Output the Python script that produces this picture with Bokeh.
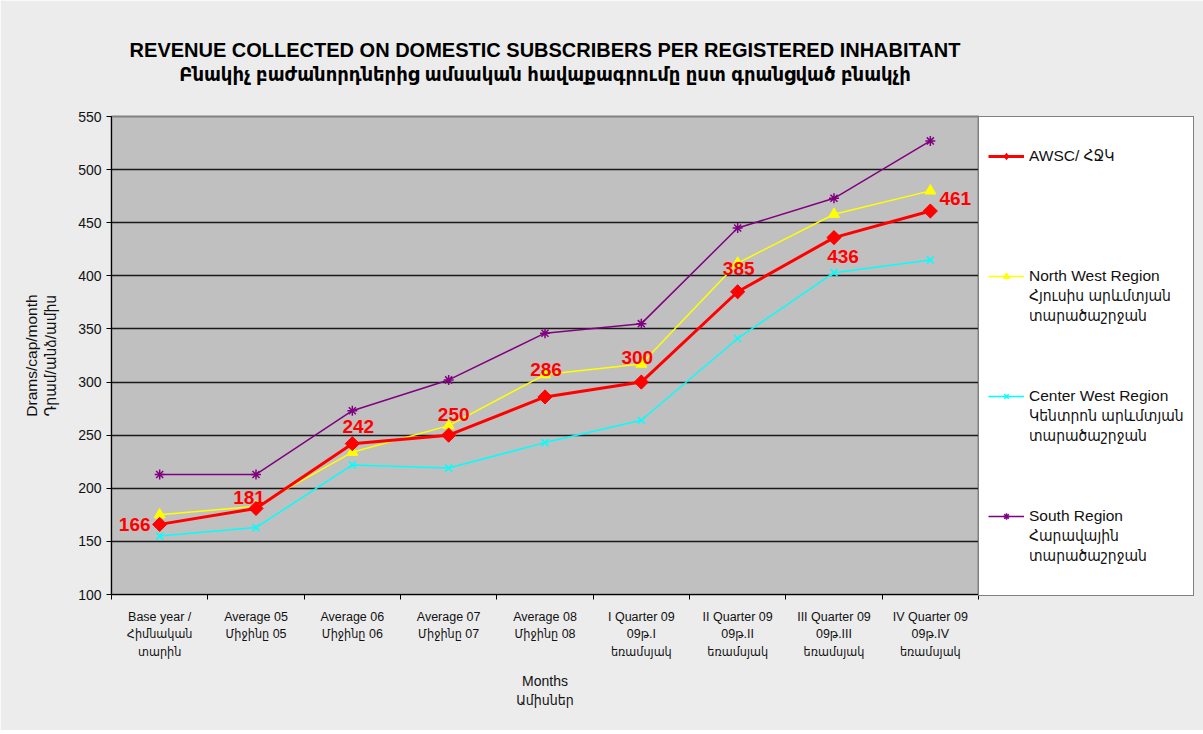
from bokeh.plotting import figure
from bokeh.models import (ColumnDataSource, LabelSet, Legend, LegendItem, Title,
                          Range1d, FixedTicker)
from bokeh.core.properties import value
from bokeh.embed import file_html
from bokeh.resources import INLINE

CATEGORIES = [
    "Base year /\nՀիմնական\nտարին",
    "Average 05\nՄիջինը 05",
    "Average 06\nՄիջինը 06",
    "Average 07\nՄիջինը 07",
    "Average 08\nՄիջինը 08",
    "I Quarter 09\n09թ.I\nեռամսյակ",
    "II Quarter 09\n09թ.II\nեռամսյակ",
    "III Quarter 09\n09թ.III\nեռամսյակ",
    "IV Quarter 09\n09թ.IV\nեռամսյակ",
]
AWSC = [166, 181, 242, 250, 286, 300, 385, 436, 461]
NORTH_WEST = [175, 183, 234, 259, 307, 317, 412, 458, 480]
CENTER_WEST = [155, 163, 222, 219, 243, 264, 341, 403, 415]
SOUTH = [213, 213, 273, 302, 346, 355, 445, 473, 527]

SERIES_NAMES = [
    "AWSC/ ՀՋԿ",
    "North West Region\nՀյուսիս արևմտյան\nտարածաշրջան",
    "Center West Region\nԿենտրոն արևմտյան\nտարածաշրջան",
    "South Region\nՀարավային\nտարածաշրջան",
]
Y_TICKS = [100, 150, 200, 250, 300, 350, 400, 450, 500, 550]

# label offsets in screen pixels (style only)
LABEL_DX = [-25, -7, 6, 5, 1, -4, 1, 9, 25]
LABEL_DY = [0, 11, 17, 21, 27, 25, 23, -19, 13]

FONT = "Liberation Sans, Arial, DejaVu Sans Condensed, DejaVu Sans, sans-serif"

xs = list(range(len(CATEGORIES)))

p = figure(frame_width=867, frame_height=478,
           x_range=Range1d(-0.5, len(CATEGORIES) - 0.5),
           y_range=Range1d(Y_TICKS[0], Y_TICKS[-1]),
           output_backend="svg", toolbar_location=None,
           min_border_left=111, min_border_right=220, min_border_top=116,
           min_border_bottom=136)

p.background_fill_color = "#c0c0c0"
p.border_fill_color = "#ececec"
p.outline_line_color = "#808080"
p.outline_line_width = 2

# axes
p.yaxis.ticker = FixedTicker(ticks=Y_TICKS)
p.yaxis.axis_line_color = "black"
p.yaxis.axis_line_width = 1
p.yaxis.major_tick_line_color = "black"
p.yaxis.major_tick_out = 5
p.yaxis.major_tick_in = 0
p.yaxis.minor_tick_line_color = None
p.yaxis.major_label_text_font = FONT
p.yaxis.major_label_text_font_size = "14px"
p.yaxis.major_label_text_color = "#111111"
p.yaxis.axis_label = "Drams/cap/month\nԴրամ/անձ/ամիս"
p.yaxis.axis_label_text_font = FONT
p.yaxis.axis_label_text_font_size = "15.5px"
p.yaxis.axis_label_text_font_style = "normal"
p.yaxis.axis_label_text_line_height = 1.1
p.yaxis.axis_label_text_color = "#111111"
p.yaxis.axis_label_standoff = 16

p.xaxis.ticker = FixedTicker(ticks=xs, minor_ticks=[x - 0.5 for x in xs] + [xs[-1] + 0.5])
p.xaxis.major_label_overrides = {x: c for x, c in zip(xs, CATEGORIES)}
p.xaxis.axis_line_color = "black"
p.xaxis.axis_line_width = 1
p.xaxis.major_tick_line_color = None
p.xaxis.major_tick_out = 0
p.xaxis.major_tick_in = 0
p.xaxis.minor_tick_line_color = "black"
p.xaxis.minor_tick_out = 5
p.xaxis.minor_tick_in = 0
p.xaxis.major_label_text_font = FONT
p.xaxis.major_label_text_font_size = "12.5px"
p.xaxis.major_label_text_line_height = 1.25
p.xaxis.major_label_text_color = "#111111"
p.xaxis.major_label_standoff = 10
p.xaxis.axis_label = "Months\nԱմիսներ"
p.xaxis.axis_label_text_font = FONT
p.xaxis.axis_label_text_font_size = "14px"
p.xaxis.axis_label_text_font_style = "normal"
p.xaxis.axis_label_text_color = "#111111"
p.xaxis.axis_label_standoff = 11

p.xgrid.grid_line_color = None
p.ygrid.ticker = FixedTicker(ticks=Y_TICKS[1:-1])
p.ygrid.grid_line_color = "#1a1a1a"
p.ygrid.grid_line_width = 1.5

# series
r_nw_l = p.line(xs, NORTH_WEST, line_color="#ffff00", line_width=1.5)
r_nw_m = p.scatter(xs, NORTH_WEST, marker="triangle", size=11, fill_color="#ffff00",
                   line_color="#ffff00")
r_cw_l = p.line(xs, CENTER_WEST, line_color="#00ffff", line_width=1.5)
r_cw_m = p.scatter(xs, CENTER_WEST, marker="x", size=10, line_color="#00ffff", line_width=1.5)
r_s_l = p.line(xs, SOUTH, line_color="#800080", line_width=1.5)
r_s_m = p.scatter(xs, SOUTH, marker="asterisk", size=10, line_color="#800080", line_width=1.5)
r_a_l = p.line(xs, AWSC, line_color="#ff0000", line_width=3)
# diamond key (also used by the legend), covered by the rotated-square markers
r_a_key = p.scatter(xs, AWSC, marker="diamond", size=13, fill_color="#ff0000",
                    line_color="#ff0000")
r_a_m = p.scatter(xs, AWSC, marker="square", angle=0.785398, size=10,
                  fill_color="#ff0000", line_color="#ff0000")

src = ColumnDataSource(dict(x=xs, y=AWSC, t=[str(v) for v in AWSC], dx=LABEL_DX, dy=LABEL_DY))
p.add_layout(LabelSet(x="x", y="y", text="t", x_offset="dx", y_offset="dy", source=src,
                      text_color="#ff0000", text_font=value(FONT), text_font_style="bold",
                      text_font_size="19px", text_align="center", text_baseline="middle"))

# legend: one row per text line, invisible glyph on continuation/blank rows
blank = p.scatter([], [], marker="circle", size=0, fill_alpha=0, line_alpha=0)
series_renderers = [[r_a_l, r_a_key], [r_nw_l, r_nw_m], [r_cw_l, r_cw_m], [r_s_l, r_s_m]]
items = [LegendItem(label=" ", renderers=[blank])]
for k, (name, rends) in enumerate(zip(SERIES_NAMES, series_renderers)):
    lines = name.split("\n")
    items.append(LegendItem(label=lines[0], renderers=rends))
    for ln in lines[1:]:
        items.append(LegendItem(label=ln, renderers=[blank]))
    if k < len(SERIES_NAMES) - 1:
        for _ in range(6 - len(lines)):
            items.append(LegendItem(label=" ", renderers=[blank]))
items.append(LegendItem(label=" ", renderers=[blank]))

legend = Legend(items=items, location="top_left")
legend.border_line_color = "black"
legend.border_line_width = 1
legend.background_fill_color = "white"
legend.background_fill_alpha = 1
legend.label_text_font = FONT
legend.label_text_font_size = "15.5px"
legend.label_text_color = "#111111"
legend.label_height = 20
legend.glyph_width = 36
legend.glyph_height = 16
legend.label_standoff = 5
legend.spacing = 0
legend.padding = 9
legend.margin = 0
p.add_layout(legend, "right")

# spacer between the frame and the two title lines
p.add_layout(Title(text=" ", text_font_size="10px", standoff=19), "above")
p.add_layout(Title(text="Բնակիչ բաժանորդներից ամսական հավաքագրումը ըստ գրանցված բնակչի",
                   align="center", text_font=FONT, text_font_size="20px",
                   text_font_style="bold", text_color="black", standoff=0), "above")
p.add_layout(Title(text="REVENUE COLLECTED ON DOMESTIC SUBSCRIBERS PER REGISTERED INHABITANT",
                   align="center", text_font=FONT, text_font_size="20px",
                   text_font_style="bold", text_color="black", standoff=0), "above")

open("out.html", "w").write(file_html(p, INLINE))
